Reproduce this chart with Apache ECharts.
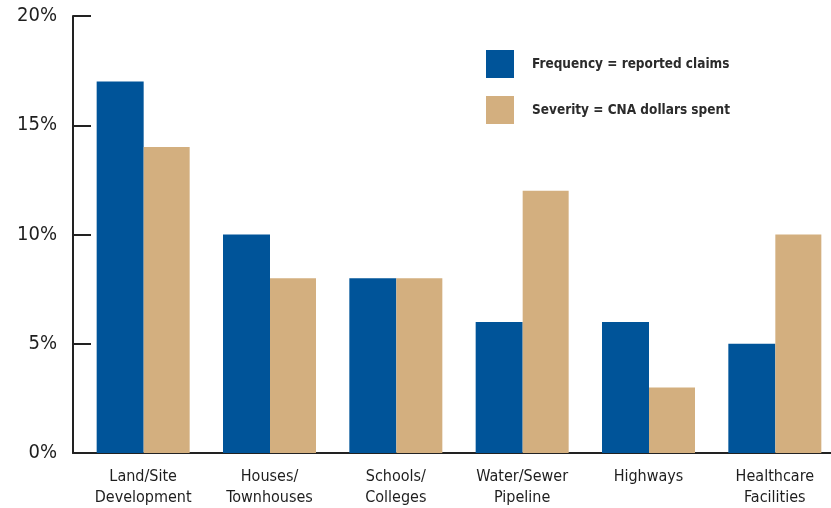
<!DOCTYPE html>
<html><head><meta charset="utf-8">
<script src="https://cdn.jsdelivr.net/npm/echarts@6/dist/echarts.min.js"></script>
<style>html,body{margin:0;padding:0;background:#fff}#c{width:831px;height:508px}</style>
</head><body><div id="c"></div>
<script>
const categories = ['Land/Site\nDevelopment', 'Houses/\nTownhouses', 'Schools/\nColleges', 'Water/Sewer\nPipeline', 'Highways', 'Healthcare\nFacilities'];
const frequency = [17, 10, 8, 6, 6, 5];
const severity = [14, 8, 8, 12, 3, 10];
const yTicks = [0, 5, 10, 15, 20];

const FONT = "'Liberation Sans Narrow', 'DejaVu Sans Condensed', 'Roboto', sans-serif";
const chart = echarts.init(document.getElementById('c'));
chart.setOption({
  animation: false,
  grid: { left: 73, top: 16, width: 762, height: 441, containLabel: false },
  legend: {
    orient: 'vertical', left: 481, top: 45, itemWidth: 28, itemHeight: 28, itemGap: 18,
    data: ['Frequency = reported claims', 'Severity = CNA dollars spent'],
    icon: 'rect',
    textStyle: { fontFamily: FONT, fontSize: 13.5, fontWeight: 'bold', color: '#2b2b2b', padding: [0, 0, 0, 13] }
  },
  xAxis: {
    type: 'category', data: categories,
    axisLine: { lineStyle: { color: '#222', width: 2 } },
    axisTick: { show: false },
    axisLabel: { margin: 13, fontFamily: FONT, fontSize: 16, color: '#1e1e1e', lineHeight: 21, padding: [0, 0, 0, 14] }
  },
  yAxis: {
    type: 'value', min: yTicks[0], max: yTicks[yTicks.length - 1], interval: 5,
    splitLine: { show: false },
    axisLine: { show: true, lineStyle: { color: '#222', width: 2 } },
    axisTick: { show: true, inside: true, length: 18, lineStyle: { color: '#222', width: 2 } },
    axisLabel: { margin: 16, fontFamily: FONT, fontSize: 20, color: '#1e1e1e', formatter: v => v + '%' }
  },
  series: [
    { name: 'spacer', type: 'bar', data: categories.map(() => '-'), barWidth: 14, barGap: '0%', silent: true },
    { name: 'Frequency = reported claims', type: 'bar', data: frequency, barWidth: 47, barGap: '0%', itemStyle: { color: '#005499' } },
    { name: 'Severity = CNA dollars spent', type: 'bar', data: severity, barWidth: 46, barGap: '0%', itemStyle: { color: '#D3AF7F' } }
  ]
});
</script></body></html>
